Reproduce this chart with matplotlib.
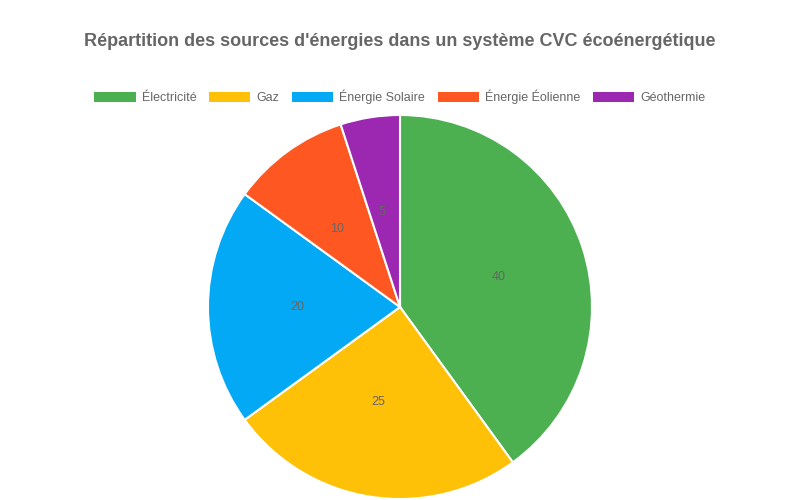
import matplotlib.pyplot as plt
from matplotlib.patches import Patch

plt.rcParams['font.family'] = ['Liberation Sans', 'DejaVu Sans']

labels = ['Électricité', 'Gaz', 'Énergie Solaire', 'Énergie Éolienne', 'Géothermie']
values = [40, 25, 20, 10, 5]
colors = ['#4caf50', '#ffc107', '#03a9f4', '#ff5722', '#9c27b0']

fig = plt.figure(figsize=(8, 5), dpi=100)
ax = fig.add_axes([0.26, 0.002, 0.48, 0.768])
ax.pie(values, colors=colors, startangle=90, counterclock=False,
       labels=[str(v) for v in values], labeldistance=0.5,
       textprops={'color': '#666666', 'fontsize': 9},
       wedgeprops={'edgecolor': 'white', 'linewidth': 1.5})
ax.set_aspect('equal')
ax.set_xlim(-1, 1)
ax.set_ylim(-1, 1)

fig.text(0.5, 0.916, "Répartition des sources d'énergies dans un système CVC écoénergétique",
         ha='center', va='center', fontsize=13, fontweight='bold', color='#666666')

handles = [Patch(facecolor=c, label=l) for c, l in zip(colors, labels)]
fig.legend(handles=handles, loc='center', bbox_to_anchor=(0.5, 0.806), ncol=5,
           frameon=False, fontsize=9, labelcolor='#666666',
           handlelength=3.3, handleheight=0.8, handletextpad=0.5, columnspacing=1.0)

fig.savefig('out.png')
